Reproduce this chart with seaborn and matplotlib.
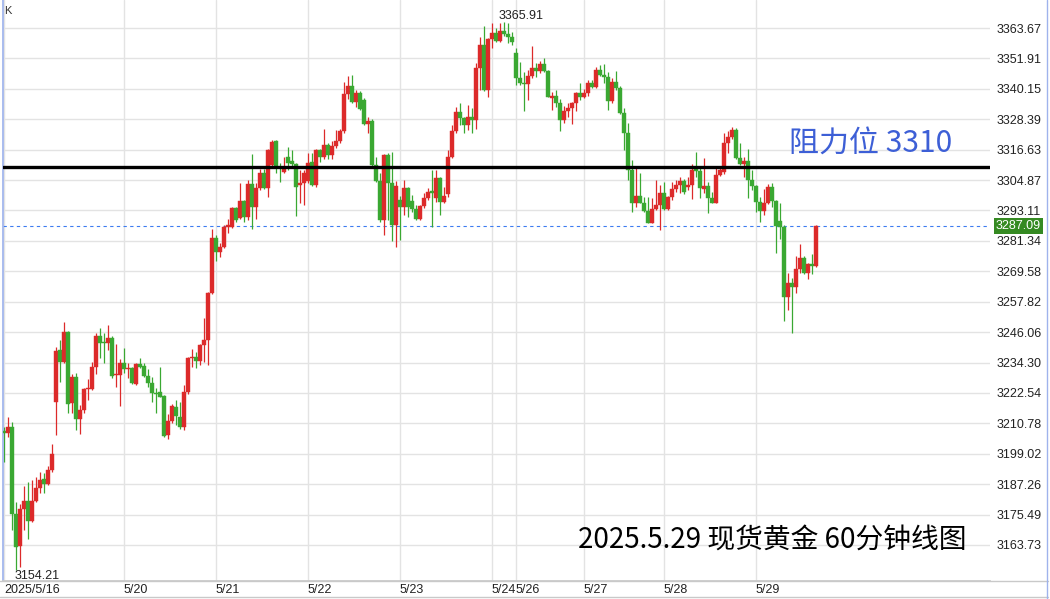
import numpy as np
import pandas as pd
import matplotlib
matplotlib.use("Agg")
import matplotlib.pyplot as plt
from matplotlib.lines import Line2D
import seaborn as sns

# Spot gold, 60 minute candles
opens = [
    3207.8, 3207.0, 3209.4, 3175.7, 3163.3, 3177.6, 3180.7, 3173.0, 3180.7, 3185.8,
    3189.3, 3187.3, 3192.7, 3219.0, 3239.1, 3234.5, 3246.1, 3218.6, 3228.7, 3212.5,
    3215.9, 3224.1, 3224.1, 3232.6, 3244.6, 3242.2, 3241.9, 3243.8, 3229.5, 3229.5,
    3234.1, 3231.8, 3232.2, 3226.0, 3233.7, 3233.0, 3229.1, 3226.4, 3222.5, 3222.9,
    3221.3, 3206.3, 3211.7, 3217.1, 3213.2, 3209.4, 3222.9, 3236.0, 3236.4, 3234.9,
    3241.1, 3243.0, 3261.2, 3282.5, 3277.0, 3279.0, 3286.7, 3286.7, 3294.1, 3290.2,
    3296.8, 3290.6, 3303.3, 3294.4, 3301.8, 3307.6, 3301.8, 3310.7, 3320.0, 3310.1,
    3308.0, 3313.8, 3312.2, 3311.1, 3303.0, 3303.7, 3304.5, 3311.9, 3303.0, 3316.5,
    3313.8, 3318.4, 3314.6, 3318.0, 3320.0, 3323.8, 3338.1, 3341.2, 3335.1, 3338.5,
    3335.8, 3326.5, 3327.7, 3310.7, 3304.5, 3289.4, 3314.6, 3303.7, 3287.5, 3297.2,
    3294.4, 3301.8, 3296.8, 3293.7, 3289.8, 3294.8, 3297.9, 3300.6, 3298.0, 3305.7,
    3296.4, 3299.5, 3313.8, 3323.8, 3331.2, 3328.9, 3326.2, 3329.3, 3328.1, 3348.2,
    3357.1, 3339.7, 3359.4, 3361.7, 3358.6, 3362.5, 3361.3, 3360.2, 3354.0, 3344.3,
    3342.4, 3341.9, 3345.1, 3348.2, 3347.0, 3349.7, 3347.0, 3336.6, 3337.4, 3334.7,
    3328.1, 3331.6, 3332.7, 3334.7, 3338.5, 3337.0, 3338.5, 3342.4, 3340.9, 3347.4,
    3345.5, 3344.7, 3335.4, 3342.8, 3340.5, 3330.8, 3323.1, 3308.8, 3296.0, 3298.7,
    3296.0, 3292.9, 3288.3, 3293.7, 3295.2, 3299.9, 3293.7, 3298.3, 3301.4, 3303.0,
    3304.5, 3302.2, 3303.0, 3309.1, 3308.5, 3301.4, 3302.6, 3297.9, 3296.0, 3306.8,
    3308.0, 3319.2, 3321.5, 3324.2, 3313.4, 3311.1, 3312.2, 3304.9, 3302.6, 3296.4,
    3292.9, 3296.0, 3302.2, 3296.8, 3289.0, 3286.7, 3259.6, 3265.1, 3263.5, 3270.5,
    3274.7, 3268.9, 3272.4, 3271.6,
]
closes = [
    3207.0, 3209.4, 3175.7, 3163.0, 3177.6, 3180.7, 3173.0, 3180.7, 3185.8, 3188.9,
    3187.3, 3192.7, 3198.9, 3238.8, 3234.5, 3246.1, 3218.3, 3228.7, 3212.5, 3215.9,
    3224.1, 3224.4, 3232.6, 3244.6, 3241.9, 3241.9, 3243.8, 3229.1, 3229.9, 3234.1,
    3231.8, 3232.2, 3226.4, 3233.7, 3232.6, 3229.1, 3226.4, 3222.5, 3222.1, 3221.0,
    3205.9, 3211.7, 3217.5, 3213.6, 3209.4, 3222.9, 3236.0, 3236.4, 3234.9, 3241.1,
    3243.0, 3261.2, 3282.5, 3277.0, 3279.0, 3286.7, 3287.5, 3294.1, 3289.4, 3296.8,
    3290.6, 3303.3, 3294.4, 3301.8, 3307.6, 3301.8, 3316.5, 3319.6, 3310.1, 3309.6,
    3309.9, 3311.5, 3311.1, 3302.2, 3303.7, 3307.6, 3311.5, 3303.0, 3316.5, 3313.8,
    3318.4, 3314.6, 3318.0, 3320.0, 3323.8, 3338.1, 3341.2, 3335.1, 3338.5, 3332.3,
    3326.5, 3327.7, 3310.7, 3304.5, 3289.4, 3314.6, 3303.7, 3287.5, 3302.6, 3294.4,
    3301.8, 3294.4, 3293.7, 3289.8, 3294.8, 3297.9, 3300.2, 3300.0, 3305.7, 3296.4,
    3298.7, 3313.8, 3323.8, 3331.2, 3328.9, 3326.2, 3329.3, 3328.1, 3348.2, 3357.1,
    3339.7, 3359.4, 3361.7, 3358.6, 3362.5, 3361.3, 3360.2, 3358.3, 3344.3, 3342.4,
    3341.9, 3345.1, 3348.2, 3347.0, 3349.7, 3347.0, 3337.0, 3337.4, 3334.7, 3328.1,
    3331.6, 3332.7, 3334.7, 3338.5, 3337.0, 3338.5, 3342.4, 3340.9, 3347.4, 3345.5,
    3344.7, 3335.4, 3342.8, 3340.5, 3330.8, 3323.1, 3308.8, 3296.0, 3298.7, 3296.0,
    3292.9, 3288.3, 3293.7, 3295.2, 3299.9, 3293.7, 3298.3, 3301.4, 3303.0, 3304.5,
    3300.3, 3303.0, 3308.8, 3308.5, 3301.8, 3302.6, 3297.9, 3296.0, 3306.8, 3308.8,
    3319.2, 3321.5, 3324.2, 3313.4, 3311.1, 3312.2, 3304.9, 3302.6, 3296.4, 3292.9,
    3296.0, 3302.2, 3296.8, 3287.1, 3286.7, 3259.6, 3265.1, 3263.5, 3270.5, 3274.7,
    3268.9, 3272.4, 3271.6, 3287.09,
]
highs = [
    3209.4, 3213.2, 3211.3, 3180.4, 3179.6, 3186.5, 3188.1, 3188.9, 3190.0, 3192.0,
    3191.6, 3194.3, 3202.8, 3240.3, 3243.0, 3250.0, 3246.5, 3229.9, 3230.2, 3217.9,
    3224.4, 3227.9, 3234.5, 3245.7, 3247.6, 3245.7, 3248.8, 3244.6, 3241.5, 3235.6,
    3239.9, 3234.1, 3232.6, 3234.1, 3236.0, 3234.1, 3231.8, 3228.7, 3224.4, 3232.6,
    3221.7, 3214.4, 3218.3, 3219.8, 3219.0, 3225.6, 3236.3, 3239.5, 3238.4, 3241.5,
    3251.5, 3261.6, 3285.9, 3283.6, 3280.5, 3287.5, 3289.8, 3294.4, 3294.6, 3303.7,
    3297.2, 3304.9, 3314.9, 3303.7, 3309.1, 3309.1, 3316.9, 3320.4, 3320.4, 3311.5,
    3313.8, 3317.7, 3316.5, 3311.5, 3308.8, 3308.8, 3315.3, 3315.3, 3316.9, 3316.9,
    3324.6, 3319.2, 3320.0, 3324.2, 3324.6, 3342.8, 3345.1, 3345.5, 3339.7, 3339.3,
    3336.6, 3329.3, 3328.5, 3313.8, 3307.6, 3314.9, 3315.3, 3315.7, 3304.5, 3298.7,
    3304.9, 3302.2, 3299.1, 3295.2, 3295.2, 3299.9, 3301.8, 3308.8, 3308.8, 3306.0,
    3302.2, 3316.5, 3326.2, 3333.1, 3334.7, 3329.3, 3333.9, 3332.7, 3350.1, 3360.2,
    3364.4, 3359.8, 3365.6, 3363.7, 3365.6, 3365.91, 3365.6, 3362.1, 3355.9, 3350.5,
    3346.7, 3347.4, 3356.7, 3350.1, 3350.9, 3352.1, 3347.4, 3338.9, 3339.7, 3336.2,
    3333.5, 3334.7, 3334.9, 3338.9, 3342.4, 3340.1, 3343.6, 3343.6, 3348.6, 3349.4,
    3349.8, 3346.7, 3344.3, 3347.0, 3341.2, 3332.7, 3326.9, 3312.6, 3310.3, 3307.6,
    3298.3, 3298.3, 3297.9, 3304.9, 3302.9, 3304.1, 3298.7, 3304.1, 3304.9, 3306.0,
    3305.3, 3306.0, 3311.1, 3315.7, 3309.9, 3313.4, 3304.1, 3300.3, 3309.9, 3309.9,
    3323.1, 3323.8, 3325.4, 3325.0, 3319.2, 3313.8, 3316.9, 3308.8, 3303.0, 3298.3,
    3301.4, 3303.3, 3303.7, 3297.2, 3296.0, 3287.5, 3268.9, 3267.0, 3275.5, 3280.1,
    3275.3, 3272.8, 3276.3, 3287.5,
]
lows = [
    3195.8, 3205.5, 3169.5, 3154.21, 3155.2, 3169.5, 3166.0, 3172.6, 3180.5, 3183.8,
    3183.8, 3186.9, 3192.0, 3206.3, 3226.8, 3234.1, 3214.8, 3214.8, 3208.2, 3206.7,
    3214.8, 3219.8, 3223.7, 3229.9, 3236.0, 3234.1, 3239.1, 3228.5, 3224.8, 3217.5,
    3230.2, 3228.3, 3226.0, 3225.6, 3232.3, 3228.7, 3224.8, 3219.0, 3214.8, 3220.8,
    3205.6, 3204.7, 3210.9, 3210.1, 3208.6, 3208.2, 3222.1, 3232.6, 3232.2, 3233.3,
    3234.5, 3233.3, 3260.8, 3273.6, 3275.1, 3278.6, 3284.4, 3286.5, 3288.6, 3289.8,
    3288.6, 3289.4, 3285.9, 3289.8, 3301.0, 3301.4, 3298.3, 3310.3, 3307.6, 3304.1,
    3307.6, 3308.8, 3309.5, 3291.0, 3296.0, 3295.2, 3303.7, 3302.6, 3302.2, 3311.9,
    3313.0, 3313.0, 3313.0, 3317.3, 3319.2, 3323.1, 3336.2, 3334.8, 3333.1, 3331.8,
    3326.2, 3323.1, 3309.9, 3304.1, 3288.6, 3283.6, 3289.4, 3281.3, 3279.0, 3281.7,
    3291.4, 3290.6, 3292.5, 3289.4, 3289.6, 3294.1, 3297.2, 3286.7, 3296.4, 3291.4,
    3296.0, 3298.3, 3313.4, 3323.1, 3326.2, 3323.1, 3324.2, 3323.1, 3324.6, 3339.7,
    3339.3, 3337.0, 3355.9, 3358.3, 3358.3, 3360.6, 3357.9, 3357.1, 3341.6, 3341.6,
    3331.6, 3335.8, 3344.3, 3344.7, 3346.3, 3346.7, 3336.8, 3332.0, 3333.1, 3323.8,
    3326.9, 3329.3, 3326.5, 3331.6, 3335.8, 3336.6, 3337.4, 3340.5, 3340.5, 3345.1,
    3342.4, 3332.0, 3334.7, 3339.7, 3330.4, 3316.5, 3304.9, 3292.5, 3294.4, 3295.8,
    3292.5, 3288.1, 3288.1, 3293.3, 3285.6, 3293.3, 3293.3, 3297.2, 3300.3, 3299.9,
    3299.5, 3301.0, 3297.5, 3306.0, 3297.9, 3299.9, 3292.1, 3295.8, 3295.8, 3306.4,
    3307.2, 3315.3, 3320.7, 3313.0, 3310.7, 3306.0, 3297.9, 3301.0, 3292.5, 3288.6,
    3291.4, 3295.6, 3294.4, 3276.7, 3282.1, 3250.4, 3254.6, 3245.7, 3261.2, 3268.9,
    3268.7, 3266.6, 3268.5, 3271.2,
]

# first candle of each trading day
day_labels = ["2025/5/16", "5/20", "5/21", "5/22", "5/23", "5/24", "5/26", "5/27", "5/28", "5/29"]
day_index = [0, 30, 53, 76, 99, 122, 128, 145, 165, 188]

price_ticks = [3163.73, 3175.49, 3187.26, 3199.02, 3210.78, 3222.54, 3234.30, 3246.06, 3257.82,
               3269.58, 3281.34, 3293.11, 3304.87, 3316.63, 3328.39, 3340.15, 3351.91, 3363.67]

resistance = 3310
resistance_text = "阻力位 3310"
caption_text = "2025.5.29 现货黄金 60分钟线图"

UP_COLOR = "#dc2a2a"
DOWN_COLOR = "#3aa832"

sns.set_theme(style="white")
plt.rcParams['font.family'] = ['Liberation Sans', 'Noto Sans CJK SC', 'DejaVu Sans']


def build_frame():
    df = pd.DataFrame({'open': opens, 'close': closes, 'high': highs, 'low': lows})
    df['color'] = np.where(df['close'] >= df['open'], UP_COLOR, DOWN_COLOR)
    df['body_lo'] = df[['open', 'close']].min(axis=1)
    df['body_h'] = (df['close'] - df['open']).abs().clip(lower=0.4)
    return df


def plot_chart(df):
    W, H = 1050, 599
    fig = plt.figure(figsize=(W / 100, H / 100), dpi=100)
    ax = fig.add_axes([3 / W, 1 - 581 / H, 987 / W, 581 / H])

    # grid
    ax.set_xticks(day_index)
    ax.set_xticklabels(day_labels, ha='left')
    ax.set_yticks(price_ticks)
    ax.set_yticklabels([f"{p:.2f}" for p in price_ticks])
    ax.grid(True, color='#e3e3e3', linewidth=1)
    ax.set_axisbelow(True)

    # candles
    ax.vlines(df.index, df['low'], df['high'], colors=df['color'], linewidth=0.9, zorder=2)
    ax.bar(df.index, df['body_h'], bottom=df['body_lo'], width=0.8,
           color=df['color'], edgecolor=df['color'], linewidth=0.3, zorder=3)

    # resistance + last price
    last = closes[-1]
    ax.axhline(resistance, color='black', linewidth=2.4, zorder=4)
    ax.axhline(last, color='#3d7cf0', linewidth=0.8, linestyle=(0, (3, 3)), zorder=1)
    ax.text(1.006, last, f"{last:.2f}", transform=ax.get_yaxis_transform(),
            ha='left', va='center', color='white', fontsize=9,
            bbox=dict(boxstyle='square,pad=0.15', fc='#358a22', ec='none'), clip_on=False)

    # high / low marks
    hi_i = int(np.argmax(highs))
    lo_i = int(np.argmin(lows))
    ax.annotate(f"{highs[hi_i]:.2f}", xy=(hi_i, highs[hi_i]), xytext=(-4, 0.5),
                textcoords='offset points', ha='left', va='bottom', fontsize=9, color='#222222')
    ax.annotate(f"{lows[lo_i]:.2f}", xy=(lo_i, lows[lo_i]), xytext=(-1, -0.5),
                textcoords='offset points', ha='left', va='top', fontsize=9, color='#222222')

    ax.text(0.001, 0.99, "K", transform=ax.transAxes, ha='left', va='top', fontsize=8, color='#333333')
    ax.text(0.796, 0.754, resistance_text, transform=ax.transAxes, ha='left', va='center',
            fontsize=21.6, color='#3d5fd6', family=['Noto Sans CJK SC', 'DejaVu Sans'])
    ax.text(0.5826, 0.072, caption_text, transform=ax.transAxes, ha='left', va='center',
            fontsize=20, color='black', family=['Noto Sans CJK SC', 'DejaVu Sans'])

    ax.set_xlim(-0.25, 246.5)
    ax.set_ylim(3149.8, 3374.5)
    ax.yaxis.tick_right()
    ax.tick_params(axis='y', length=0, pad=5, labelsize=9, labelcolor='#222222')
    ax.tick_params(axis='x', length=0, pad=2, labelsize=9, labelcolor='#222222')

    for side in ['top', 'right']:
        ax.spines[side].set_visible(False)
    ax.spines['left'].set_color('#9fb3ec')
    ax.spines['bottom'].set_color('#c9c9c9')

    # outer frame lines
    fig.add_artist(Line2D([0, 0.998], [1 - 581 / H, 1 - 581 / H], color='#c9c9c9', linewidth=1))
    fig.add_artist(Line2D([0, 0.998], [1 - 597 / H, 1 - 597 / H], color='#c9c9c9', linewidth=1))
    fig.add_artist(Line2D([0.997, 0.997], [0, 1], color='#9fb3ec', linewidth=1))

    fig.savefig('out.png', dpi=100)


def main():
    df = build_frame()
    plot_chart(df)


if __name__ == "__main__":
    main()
